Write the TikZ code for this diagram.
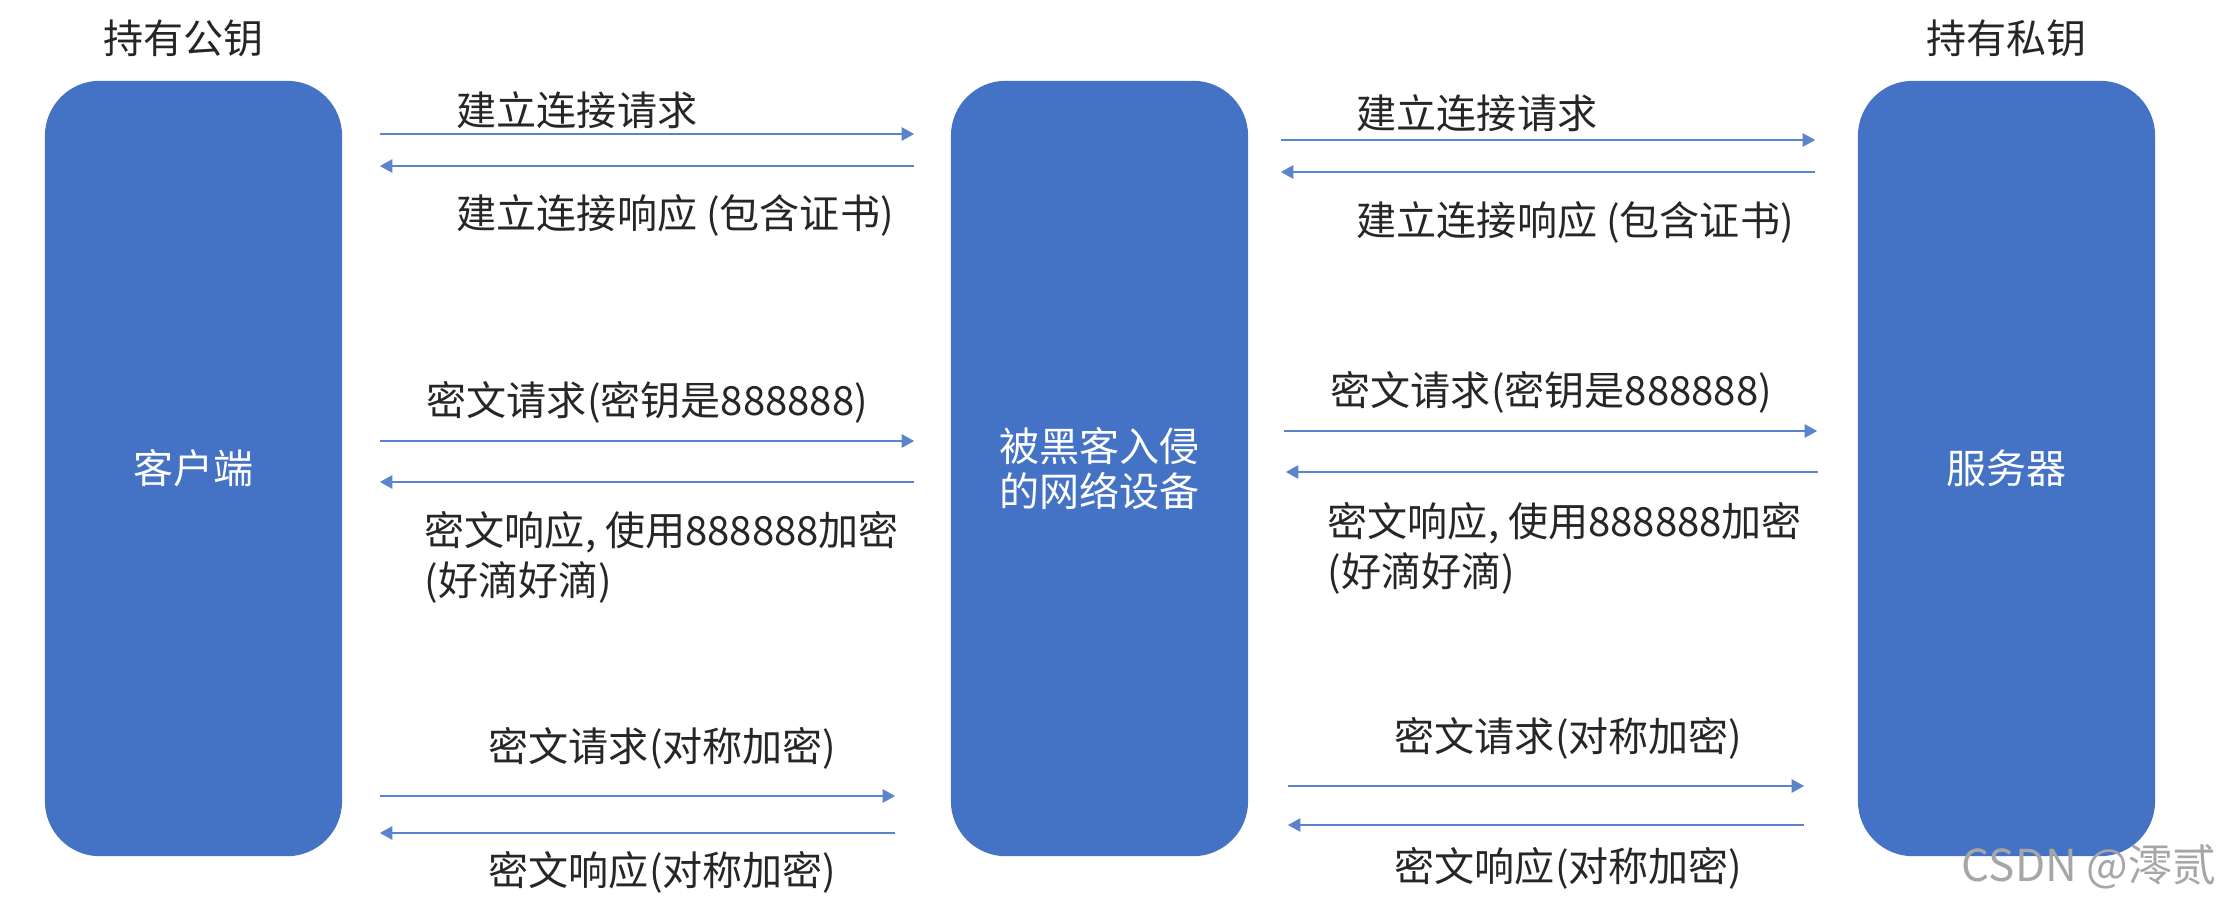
\documentclass[tikz,border=0pt]{standalone}
\usepackage{fontspec}
\setmainfont{Noto Sans CJK SC}
\usepackage{xcolor}
\usetikzlibrary{
  positioning,
  arrows.meta
}
\definecolor{boxblue}{HTML}{4472C4}
\definecolor{lineblue}{HTML}{5B84CC}
\definecolor{txtgray}{HTML}{262626}

\begin{document}
\begin{tikzpicture}[x=0.01cm, y=-0.01cm,
	party/.style={fill=boxblue, rounded corners=0.55cm, minimum width=2.97cm,
		minimum height=7.75cm, text=white, align=center,
		font=\fontsize{11.4}{13}\selectfont},
	msg/.style={draw=lineblue, line width=0.6pt,
		-{Triangle[length=3.6pt, width=3.8pt]}},
	lbl/.style={anchor=west, inner sep=0pt, text=txtgray, align=left,
		font=\fontsize{11.4}{14.2}\selectfont},
	owner/.style={inner sep=0pt, text=txtgray, font=\fontsize{11.4}{13}\selectfont}]

	    \useasboundingbox (0,0) rectangle (2222,903);

	    % the three parties
	    \node[party] (client) at (193.5,468.5) {客户端};
	    \node[party] (mitm)   at (1099.5,468.5) {被黑客入侵\\的网络设备};
	    \node[party] (server) at (2006.5,468.5) {服务器};

	    \node[owner, above=0.22cm of client, xshift=-0.1cm] (pubkey) {持有公钥};
	    \node[owner, above=0.22cm of server] (privkey) {持有私钥};

	    % client <-> mitm
	    \node[lbl] (lreq)  at (456,110) {建立连接请求};
	    \node[lbl] (lresp) at (456,215) {建立连接响应 (包含证书)};
	    \draw[msg, shorten <=0.37cm, shorten >=0.36cm]
	        (client.east |- 0,134) -- (mitm.west |- 0,134);
	    \draw[msg, shorten <=0.36cm, shorten >=0.37cm]
	        (mitm.west |- 0,166) -- (client.east |- 0,166);

	    \node[lbl] (lkeyreq)  at (426,402) {密文请求(密钥是888888)};
	    \node[lbl] (lkeyresp) at (424,557) {密文响应, 使用888888加密\\(好滴好滴)};
	    \draw[msg, shorten <=0.37cm, shorten >=0.36cm]
	        (client.east |- 0,441) -- (mitm.west |- 0,441);
	    \draw[msg, shorten <=0.36cm, shorten >=0.37cm]
	        (mitm.west |- 0,482) -- (client.east |- 0,482);

	    \node[lbl] (lsymreq)  at (488,748) {密文请求(对称加密)};
	    \node[lbl] (lsymresp) at (488,872) {密文响应(对称加密)};
	    \draw[msg, shorten <=0.37cm, shorten >=0.55cm]
	        (client.east |- 0,796) -- (mitm.west |- 0,796);
	    \draw[msg, shorten <=0.55cm, shorten >=0.37cm]
	        (mitm.west |- 0,833) -- (client.east |- 0,833);

	    % mitm <-> server
	    \node[lbl] (rreq)  at (1356,113) {建立连接请求};
	    \node[lbl] (rresp) at (1356,222) {建立连接响应 (包含证书)};
	    \draw[msg, shorten <=0.32cm, shorten >=0.42cm]
	        (mitm.east |- 0,140) -- (server.west |- 0,140);
	    \draw[msg, shorten <=0.42cm, shorten >=0.32cm]
	        (server.west |- 0,172) -- (mitm.east |- 0,172);

	    \node[lbl] (rkeyreq)  at (1330,392) {密文请求(密钥是888888)};
	    \node[lbl] (rkeyresp) at (1327,548) {密文响应, 使用888888加密\\(好滴好滴)};
	    \draw[msg, shorten <=0.35cm, shorten >=0.40cm]
	        (mitm.east |- 0,431) -- (server.west |- 0,431);
	    \draw[msg, shorten <=0.39cm, shorten >=0.37cm]
	        (server.west |- 0,472) -- (mitm.east |- 0,472);

	    \node[lbl] (rsymreq)  at (1394,738) {密文请求(对称加密)};
	    \node[lbl] (rsymresp) at (1394,868) {密文响应(对称加密)};
	    \draw[msg, shorten <=0.39cm, shorten >=0.53cm]
	        (mitm.east |- 0,786) -- (server.west |- 0,786);
	    \draw[msg, shorten <=0.53cm, shorten >=0.39cm]
	        (server.west |- 0,825) -- (mitm.east |- 0,825);

	    % watermark
	    \node[anchor=east, inner sep=0pt, text=black!35,
	        font=\fontsize{12.5}{14}\selectfont] (mark) at (2217,867) {CSDN @澪贰};

\end{tikzpicture}
\end{document}
